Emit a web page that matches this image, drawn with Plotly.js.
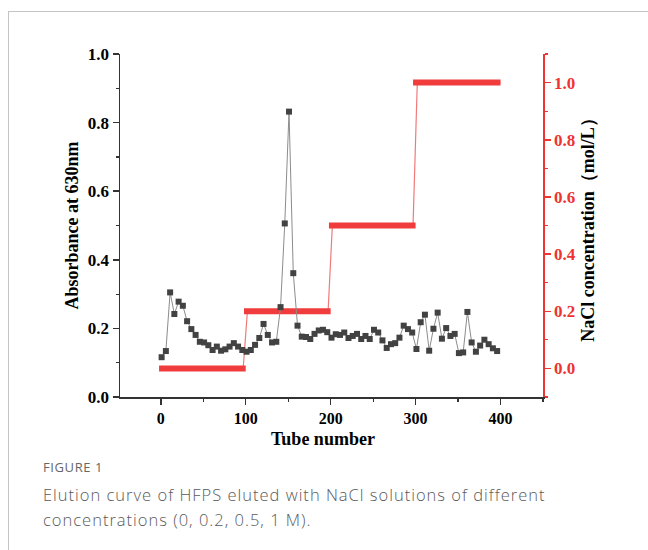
<!DOCTYPE html>
<html>
<head>
<meta charset="utf-8">
<script src="https://cdn.plot.ly/plotly-3.0.1.min.js"></script>
<style>
  html, body { margin:0; padding:0; width:648px; height:550px; overflow:hidden; background:#fff; }
  #frame { position:absolute; left:8px; top:11px; width:700px; height:600px;
           border-left:1px solid #c4c4c4; border-top:1px solid #c4c4c4; }
  #chart { position:absolute; left:0; top:0; width:648px; height:550px; }
  .cap { position:absolute; left:43px; font-family:"Open Sans", "Noto Sans", sans-serif; color:#5a5a5a; white-space:nowrap; font-weight:300; }
  #figlab { top:458px; font-size:13px; color:#666; letter-spacing:0.6px; font-weight:400; }
  #captxt { top:482px; font-size:16.5px; line-height:25px; letter-spacing:1.0px; }
</style>
</head>
<body>
<div id="frame"></div>
<div id="chart"></div>
<div class="cap" id="figlab">FIGURE 1</div>
<div class="cap" id="captxt">Elution curve of HFPS eluted with NaCl solutions of different<br>concentrations (0, 0.2, 0.5, 1 M).</div>
<script>
// Absorbance data
const tubes = [1,6,11,16,21,26,31,36,41,46,51,56,61,66,71,76,81,86,91,96,
               101,106,111,116,121,126,131,136,141,146,151,156,161,166,171,176,181,186,191,196,
               201,206,211,216,221,226,231,236,241,246,251,256,261,266,271,276,281,286,291,296,
               301,306,311,316,321,326,331,336,341,346,351,356,361,366,371,376,381,386,391,396];
const absorbance = [0.116,0.134,0.305,0.242,0.278,0.266,0.221,0.198,0.181,0.161,
                    0.159,0.151,0.137,0.147,0.135,0.139,0.147,0.157,0.147,0.137,
                    0.132,0.137,0.152,0.172,0.213,0.181,0.159,0.161,0.262,0.506,
                    0.832,0.361,0.208,0.176,0.175,0.169,0.184,0.194,0.196,0.189,
                    0.173,0.183,0.181,0.188,0.172,0.178,0.184,0.169,0.178,0.169,
                    0.196,0.188,0.165,0.143,0.154,0.157,0.173,0.208,0.198,0.188,
                    0.140,0.218,0.240,0.135,0.199,0.246,0.170,0.201,0.178,0.184,
                    0.128,0.130,0.248,0.159,0.132,0.150,0.167,0.154,0.142,0.134];

// NaCl step gradient
const naclLevels = [0, 0.2, 0.5, 1.0];
const levelStart = [-2, 98, 198, 297];
const levelEnd   = [100, 200, 300, 400];
const stepTubes  = [-2, 97, 102, 197, 202, 297, 302, 400];
const stepConc   = [0, 0, 0.2, 0.2, 0.5, 0.5, 1.0, 1.0];

// Tick labels
const xTicks = [0, 100, 200, 300, 400];
const yTicks = [0.0, 0.2, 0.4, 0.6, 0.8, 1.0];

const barX = [], barY = [];
naclLevels.forEach((v, i) => {
  barX.push(levelStart[i], levelEnd[i], null);
  barY.push(v, v, null);
});

const serif = "Liberation Serif, Times New Roman, serif";
const tickFont = {family: serif, size: 17, weight: 'bold', color: '#000'};
const titleFont = {family: serif, size: 18, weight: 'bold', color: '#000'};

const traces = [
  {x: stepTubes, y: stepConc, xaxis: 'x', yaxis: 'y', mode: 'lines',
   line: {color: '#f07a7a', width: 1.2}, hoverinfo: 'skip', showlegend: false},
  {x: barX, y: barY, xaxis: 'x', yaxis: 'y', mode: 'lines',
   line: {color: '#f03c3c', width: 6}, connectgaps: false, showlegend: false},
  {x: tubes, y: absorbance, xaxis: 'x', yaxis: 'y2', mode: 'lines+markers',
   line: {color: '#8c8c8c', width: 1},
   marker: {symbol: 'square', size: 6, color: '#424242', line: {width: 0}},
   showlegend: false}
];

const layout = {
  width: 648, height: 550,
  margin: {l: 120, r: 105, t: 54, b: 153},
  paper_bgcolor: 'rgba(0,0,0,0)', plot_bgcolor: 'rgba(0,0,0,0)',
  showlegend: false,
  xaxis: {
    range: [-48, 450], tickvals: xTicks, ticktext: xTicks.map(String),
    showline: true, linecolor: '#333', linewidth: 1.5,
    ticks: 'outside', ticklen: 6, tickwidth: 1.5, tickcolor: '#333',
    minor: {dtick: 50, tick0: 0, ticks: 'outside', ticklen: 3, tickwidth: 1.2, tickcolor: '#333'},
    showgrid: false, zeroline: false,
    tickfont: {family: serif, size: 16, weight: 'bold', color: '#000'}
  },
  yaxis: {
    side: 'right', anchor: 'x', range: [-0.1, 1.1],
    tickvals: yTicks, ticktext: yTicks.map(v => v.toFixed(1)),
    showline: true, linecolor: '#ee3333', linewidth: 1.5,
    ticks: 'outside', ticklen: 6, tickwidth: 1.5, tickcolor: '#ee3333',
    minor: {dtick: 0.1, tick0: -0.1, ticks: 'outside', ticklen: 3, tickwidth: 1.2, tickcolor: '#ee3333'},
    showgrid: false, zeroline: false,
    tickfont: {family: serif, size: 17, weight: 'bold', color: '#ee3333'},
    title: {text: 'NaCl concentration（mol/L）', font: titleFont, standoff: 6}
  },
  yaxis2: {
    overlaying: 'y', side: 'left', anchor: 'x', range: [0, 1.0],
    tickvals: yTicks, ticktext: yTicks.map(v => v.toFixed(1)),
    showline: true, linecolor: '#333', linewidth: 1.5,
    ticks: 'outside', ticklen: 6, tickwidth: 1.5, tickcolor: '#333',
    minor: {dtick: 0.1, tick0: 0, ticks: 'outside', ticklen: 3, tickwidth: 1.2, tickcolor: '#333'},
    showgrid: false, zeroline: false, tickfont: tickFont,
    title: {text: 'Absorbance at 630nm', font: titleFont, standoff: 4}
  },
  annotations: [
    {text: 'Tube number', xref: 'paper', yref: 'paper', x: 0.48, y: -0.0875,
     xanchor: 'center', yanchor: 'top', showarrow: false, font: titleFont}
  ]
};

Plotly.newPlot('chart', traces, layout, {displayModeBar: false, staticPlot: true});
</script>
</body>
</html>
